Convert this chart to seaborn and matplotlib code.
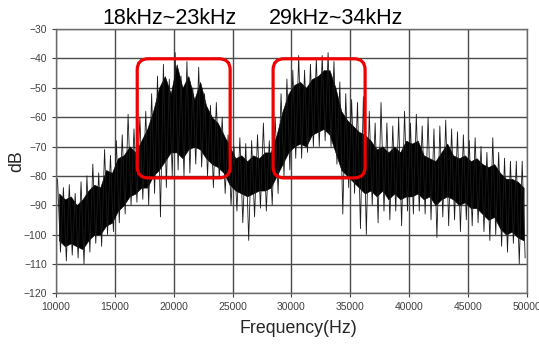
import numpy as np
import pandas as pd
import matplotlib.pyplot as plt
from matplotlib.patches import FancyBboxPatch
import seaborn as sns

# bins of 500 Hz across the measured range
bin_start = list(range(10000, 50000, 500))

# dense core band of the spectrum per bin (dB)
core_top = [-86, -88, -87, -90, -88, -85, -83, -84, -78, -79,
            -74, -73, -70, -72, -68, -64, -58, -50, -46, -52,
            -42, -50, -46, -54, -48, -56, -60, -62, -66, -70,
            -74, -73, -75, -73, -74, -72, -72, -66, -58, -52,
            -49, -48, -50, -47, -46, -44, -44, -50, -58, -61,
            -63, -65, -66, -68, -71, -70, -72, -70, -72, -68,
            -69, -68, -73, -74, -75, -72, -69, -73, -74, -73,
            -75, -74, -76, -77, -76, -79, -81, -81, -82, -84]
core_bottom = [-102, -104, -103, -104, -105, -102, -100, -100, -97, -96,
               -92, -90, -87, -86, -84, -84, -80, -78, -75, -72,
               -72, -74, -71, -70, -71, -74, -76, -77, -79, -83,
               -85, -86, -87, -86, -85, -85, -84, -80, -76, -72,
               -70, -69, -70, -66, -65, -64, -66, -72, -78, -80,
               -82, -84, -86, -85, -87, -85, -88, -86, -88, -87,
               -87, -86, -88, -87, -90, -88, -87, -88, -90, -89,
               -91, -91, -93, -95, -94, -98, -100, -99, -101, -102]

# spike peaks / troughs per bin (dB)
spike_hi = [-81, -84, -83, -86, -82, -80, -76, -79, -71, -73,
            -68, -66, -59, -64, -60, -58, -52, -46, -42, -47,
            -38, -46, -41, -50, -43, -52, -56, -55, -60, -66,
            -70, -67, -69, -68, -66, -62, -68, -60, -52, -47,
            -44, -39, -44, -42, -40, -39, -38, -41, -48, -52,
            -54, -55, -53, -58, -62, -55, -62, -63, -60, -58,
            -62, -59, -63, -60, -64, -63, -61, -64, -65, -66,
            -68, -67, -70, -72, -67, -72, -74, -75, -75, -75]
spike_lo = [-106, -109, -107, -108, -110, -106, -103, -104, -100, -99,
            -96, -93, -90, -89, -88, -90, -86, -94, -84, -80,
            -78, -80, -79, -76, -77, -80, -84, -81, -86, -90,
            -92, -96, -102, -94, -91, -92, -90, -86, -80, -78,
            -74, -74, -72, -70, -70, -68, -70, -76, -93, -84,
            -86, -98, -100, -90, -96, -92, -95, -92, -97, -92,
            -93, -92, -93, -95, -101, -94, -97, -95, -99, -95,
            -97, -96, -99, -102, -100, -104, -106, -103, -110, -108]

# highlighted bands: (label, freq from, freq to, dB low, dB high)
band_labels = ['18kHz~23kHz', '29kHz~34kHz']
band_from = [16900, 28450]
band_to = [24800, 36270]
band_db_low = [-80.7, -80.7]
band_db_high = [-40.1, -40.1]
label_x_px = [170, 336]

core = pd.DataFrame({'freq': [f + 250 for f in bin_start],
                     'top': core_top, 'bottom': core_bottom})
# zig-zag between peak and trough inside each bin
spikes = pd.DataFrame({
    'freq': np.ravel([[f + 125, f + 375] for f in bin_start]),
    'dB': np.ravel([[h, l] for h, l in zip(spike_hi, spike_lo)]),
})

sns.set_style('white')
plt.rcParams['font.family'] = ['Liberation Sans', 'DejaVu Sans']

W, H = 539, 347
fig = plt.figure(figsize=(W / 100, H / 100), dpi=100)
ax = fig.add_axes([0.104, 0.155, 0.873, 0.761])

ax.fill_between(core['freq'], core['bottom'], core['top'], color='black', lw=0.4,
                ec='black', zorder=3)
sns.lineplot(data=spikes, x='freq', y='dB', ax=ax, color='#1a1a1a', lw=0.6,
             estimator=None, zorder=4)

ax.set_xlim(10000, 50000)
ax.set_ylim(-120, -30)
ax.set_xticks(range(10000, 50001, 5000))
ax.set_yticks(range(-120, -29, 10))
ax.grid(True, color='#4a4a4a', lw=1.0, zorder=1)
ax.set_axisbelow(True)
for s in ax.spines.values():
    s.set_color('#6a6a6a')
    s.set_linewidth(1.0)
ax.tick_params(axis='both', labelsize=7.5, colors='#404040', length=3, width=0.8,
               direction='out', left=True, bottom=True)
ax.set_xlabel('Frequency(Hz)', fontsize=12.8)
ax.set_ylabel('dB', fontsize=12.8)
ax.xaxis.set_label_coords(0.516, -0.10)
ax.yaxis.set_label_coords(-0.066, 0.50)

# red rounded boxes, rounding corrected for unequal axis scales
px_hz = 40000 / (0.873 * W)
px_db = 90 / (0.761 * H)
for lab, x0, x1, y0, y1, lx in zip(band_labels, band_from, band_to,
                                   band_db_low, band_db_high, label_x_px):
    box = FancyBboxPatch((x0, y0), x1 - x0, y1 - y0,
                         boxstyle=f'round,pad=0,rounding_size={11 * px_hz}',
                         mutation_aspect=px_db / px_hz,
                         fill=False, ec='#f00000', lw=2.3, zorder=5)
    ax.add_patch(box)
    fig.text(lx / W, 1 - 23.5 / H, lab, fontsize=15.5, ha='center', va='baseline',
             color='black')

fig.savefig('out.png', dpi=100)
